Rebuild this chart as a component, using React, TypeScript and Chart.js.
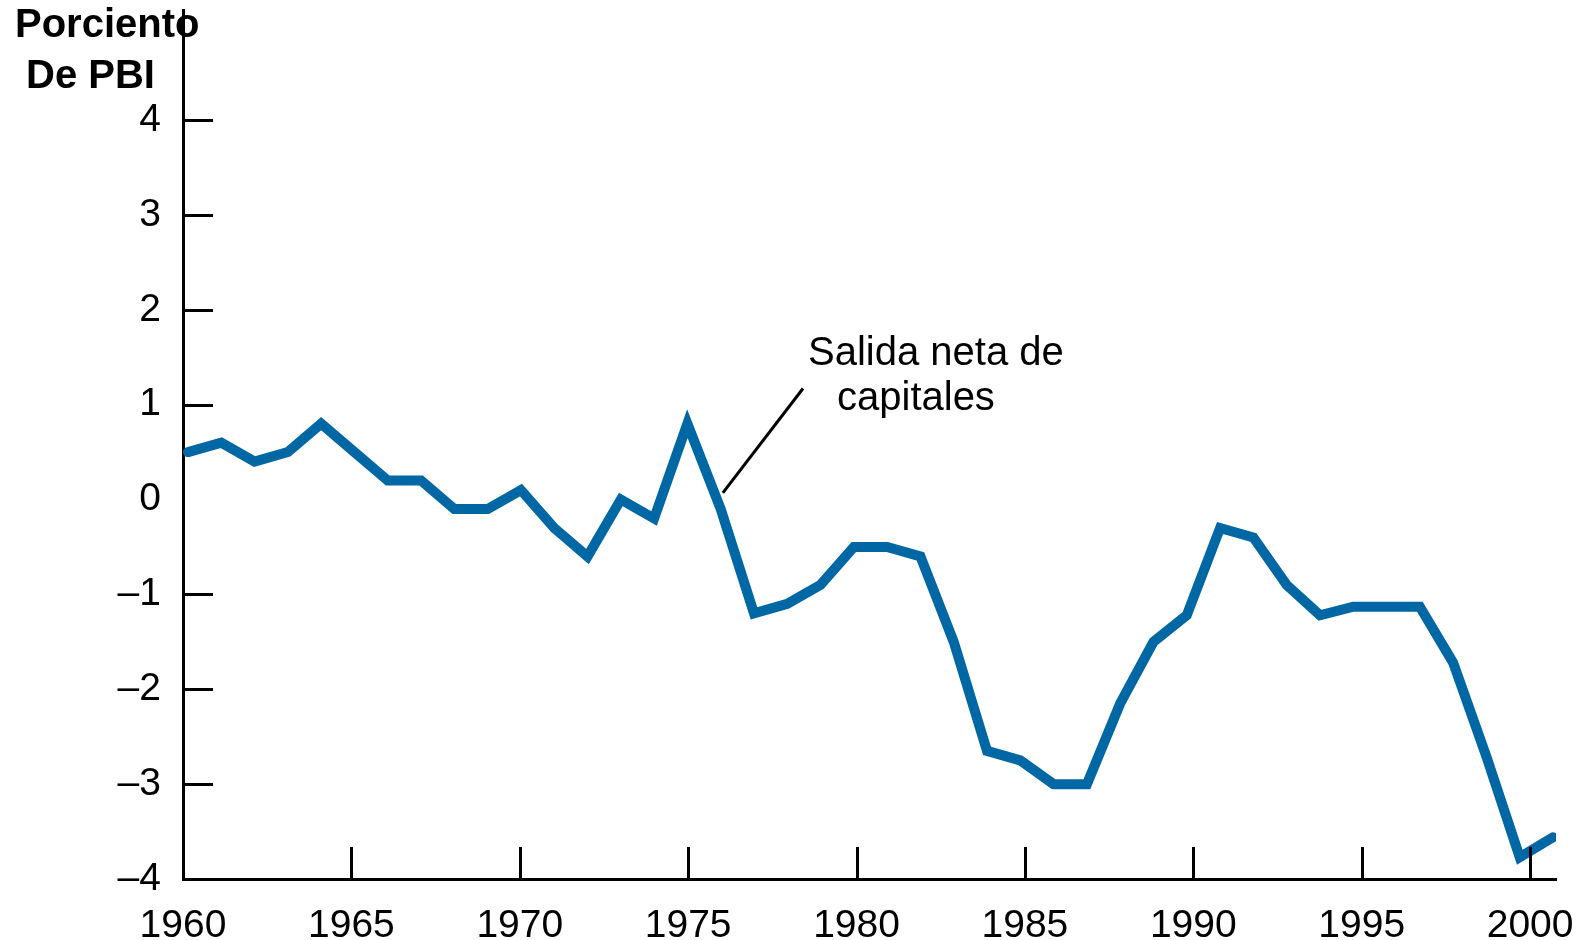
import React, { useEffect, useRef } from 'react';
import { Chart, registerables } from 'chart.js';

Chart.register(...registerables);

// ---- data ----
const years = [
  1960, 1961, 1962, 1963, 1964, 1965, 1966, 1967, 1968, 1969,
  1970, 1971, 1972, 1973, 1974, 1975, 1976, 1977, 1978, 1979,
  1980, 1981, 1982, 1983, 1984, 1985, 1986, 1987, 1988, 1989,
  1990, 1991, 1992, 1993, 1994, 1995, 1996, 1997, 1998, 1999,
  2000, 2001,
];
const capitalOutflow = [
  0.5, 0.6, 0.4, 0.5, 0.8, 0.5, 0.2, 0.2, -0.1, -0.1,
  0.1, -0.3, -0.6, 0.0, -0.2, 0.8, -0.1, -1.2, -1.1, -0.9,
  -0.5, -0.5, -0.6, -1.5, -2.65, -2.75, -3.0, -3.0, -2.15, -1.5,
  -1.22, -0.3, -0.4, -0.9, -1.22, -1.13, -1.13, -1.13, -1.72, -2.71,
  -3.77, -3.56,
];
const xTickYears = [1960, 1965, 1970, 1975, 1980, 1985, 1990, 1995, 2000];
const xMarkYears = [1965, 1970, 1975, 1980, 1985, 1990, 1995, 2000];
const yTickValues = [-4, -3, -2, -1, 0, 1, 2, 3, 4];
const yMarkValues = [-3, -2, -1, 1, 2, 3, 4];
const axisTitleLines = ['Porciento', 'De PBI'];
const seriesLabelLines = ['Salida neta de', 'capitales'];

const SANS = '"Liberation Sans", Arial, Helvetica, sans-serif';

const marksPlugin = {
  id: 'marks',
  afterDatasetsDraw(chart: any) {
    const { ctx, chartArea } = chart;
    const xs = chart.scales.x;
    const ys = chart.scales.y;
    ctx.save();
    ctx.strokeStyle = '#000';
    ctx.lineWidth = 3;
    ctx.lineCap = 'butt';
    // inside tick marks on y axis
    yMarkValues.forEach((v) => {
      const py = Math.round(ys.getPixelForValue(v)) + 0.5;
      ctx.beginPath();
      ctx.moveTo(chartArea.left, py);
      ctx.lineTo(chartArea.left + 30, py);
      ctx.stroke();
    });
    // inside tick marks on x axis
    xMarkYears.forEach((yr) => {
      const px = Math.round(xs.getPixelForValue(yr)) + 0.5;
      ctx.beginPath();
      ctx.moveTo(px, chartArea.bottom - 1);
      ctx.lineTo(px, chartArea.bottom - 32);
      ctx.stroke();
    });
    // callout line
    ctx.beginPath();
    ctx.moveTo(xs.getPixelForValue(1976.03), ys.getPixelForValue(0.07));
    ctx.lineTo(xs.getPixelForValue(1978.41), ys.getPixelForValue(1.17));
    ctx.stroke();
    // series label
    ctx.fillStyle = '#000';
    ctx.font = `40px ${SANS}`;
    ctx.textAlign = 'left';
    ctx.textBaseline = 'alphabetic';
    ctx.fillText(seriesLabelLines[0], xs.getPixelForValue(1978.56), ys.getPixelForValue(1.417));
    ctx.fillText(seriesLabelLines[1], xs.getPixelForValue(1979.42), ys.getPixelForValue(0.943));
    // axis title
    ctx.font = `bold 40px ${SANS}`;
    ctx.fillText(axisTitleLines[0], 15, 37);
    ctx.fillText(axisTitleLines[1], 26, 88);
    ctx.restore();
  },
};

export default function App() {
  const canvasRef = useRef<HTMLCanvasElement | null>(null);

  useEffect(() => {
    const canvas = canvasRef.current;
    if (!canvas) return;
    const chart = new Chart(canvas, {
      type: 'line',
      data: {
        datasets: [
          {
            data: years.map((y, i) => ({ x: y, y: capitalOutflow[i] })),
            xAxisID: 'xd',
            yAxisID: 'y',
            borderColor: '#0067a5',
            borderWidth: 10,
            pointRadius: 0,
            tension: 0,
            borderJoinStyle: 'miter',
            borderCapStyle: 'round',
            fill: false,
          } as any,
        ],
      },
      options: {
        animation: false,
        responsive: false,
        devicePixelRatio: 1,
        layout: { padding: { top: 10, right: 30, left: 0, bottom: 0 } },
        plugins: { legend: { display: false }, tooltip: { enabled: false } },
        scales: {
          x: {
            type: 'linear',
            position: 'bottom',
            min: 1960,
            max: 2000.77,
            afterBuildTicks: (s: any) => {
              s.ticks = xTickYears.map((v) => ({ value: v }));
            },
            afterFit: (s: any) => {
              s.height = 61;
              s.paddingLeft = 0;
              s.paddingRight = 0;
              s.paddingTop = 0;
              s.paddingBottom = 0;
            },
            ticks: {
              autoSkip: false,
              maxRotation: 0,
              minRotation: 0,
              color: '#000',
              padding: 24,
              font: { family: SANS, size: 39 },
              callback: (v: any) => String(v),
            },
            grid: { display: false, drawTicks: false },
            border: { display: true, color: '#000', width: 3 },
          },
          xd: {
            type: 'linear',
            display: false,
            min: 1959.85,
            max: 2001.09,
          },
          y: {
            type: 'linear',
            position: 'left',
            min: -4,
            max: 5.16,
            afterBuildTicks: (s: any) => {
              s.ticks = yTickValues.map((v) => ({ value: v }));
            },
            afterFit: (s: any) => {
              s.width = 183;
              s.paddingLeft = 0;
              s.paddingRight = 0;
              s.paddingTop = 0;
              s.paddingBottom = 0;
            },
            ticks: {
              color: '#000',
              padding: 22,
              font: { family: SANS, size: 39 },
              callback: (v: any) => (v < 0 ? '\u2013' + Math.abs(v) : String(v)),
            },
            grid: { display: false, drawTicks: false },
            border: { display: true, color: '#000', width: 3 },
          },
        } as any,
      },
      plugins: [marksPlugin],
    });
    return () => chart.destroy();
  }, []);

  return (
    <div style={{ position: 'fixed', left: 0, top: 0, width: 1586, height: 940, background: '#fff' }}>
      <canvas ref={canvasRef} width={1586} height={940} style={{ display: 'block' }} />
    </div>
  );
}
